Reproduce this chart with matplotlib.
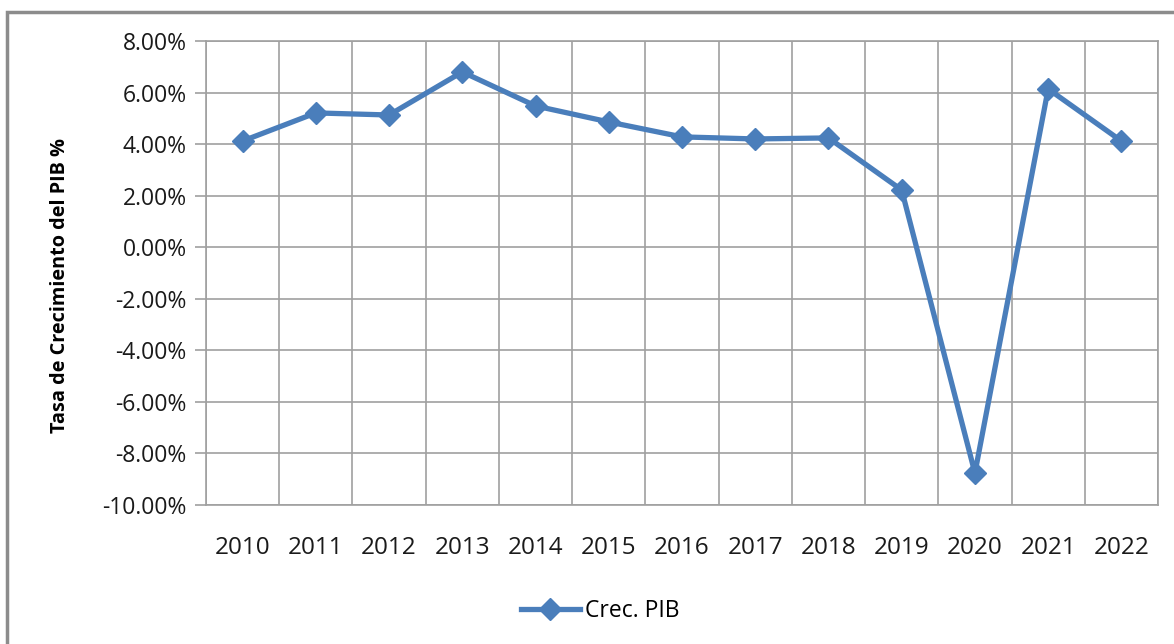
import matplotlib.pyplot as plt
from matplotlib.patches import Rectangle
from matplotlib.ticker import FuncFormatter
import numpy as np

plt.rcParams['font.family'] = ['Open Sans', 'DejaVu Sans']

# GDP growth rate per year (%)
years = ['2010', '2011', '2012', '2013', '2014', '2015', '2016',
         '2017', '2018', '2019', '2020', '2021', '2022']
growth = [4.12, 5.21, 5.13, 6.80, 5.48, 4.86, 4.28,
          4.20, 4.24, 2.22, -8.76, 6.14, 4.12]

blue = '#4a7ebb'
grid_col = '#a0a0a0'

fig = plt.figure(figsize=(11.74, 6.44), dpi=100)
ax = fig.add_axes([206 / 1174, 1 - 505 / 644, 952 / 1174, 464 / 644])

x = np.arange(len(years))
ax.plot(x, growth, color=blue, linewidth=3.8, marker='D', markersize=11.5,
        label='Crec. PIB', solid_joinstyle='round')

ax.set_xlim(-0.5, len(years) - 0.5)
ax.set_ylim(-10, 8)
ax.set_yticks(np.arange(-10, 9, 2))
ax.yaxis.set_major_formatter(FuncFormatter(lambda v, p: f'{v:.2f}%'))
ax.set_xticks(x)
ax.set_xticklabels(years)
ax.set_xticks(np.arange(-0.5, len(years), 1), minor=True)

ax.grid(True, axis='y', which='major', color=grid_col, linewidth=1.2)
ax.grid(True, axis='x', which='minor', color=grid_col, linewidth=1.2)
ax.set_axisbelow(True)
for s in ax.spines.values():
    s.set_color(grid_col)
    s.set_linewidth(1.2)

ax.tick_params(axis='y', length=8, color=grid_col, width=1.2,
               labelsize=16.5, pad=6, labelcolor='#1a1a1a')
ax.tick_params(axis='x', which='both', length=0, labelsize=17.5, pad=22,
               labelcolor='#1a1a1a')

ax.set_ylabel('Tasa de Crecimiento del PIB %', fontsize=14.3,
              fontweight='bold')
ax.yaxis.set_label_coords(-0.143, 0.472)

fig.legend(loc='center', bbox_to_anchor=(600 / 1174, 1 - 611 / 644),
           frameon=False, fontsize=16.5, handlelength=2.6,
           handletextpad=0.2)

# outer chart border (top and left visible)
fig.patches.append(Rectangle((7 / 1174, -0.1), 1.2, 1.1 - 12 / 644,
                             transform=fig.transFigure, fill=False,
                             edgecolor='#8c8c8c', linewidth=2.5))

fig.savefig('out.png', dpi=100)
